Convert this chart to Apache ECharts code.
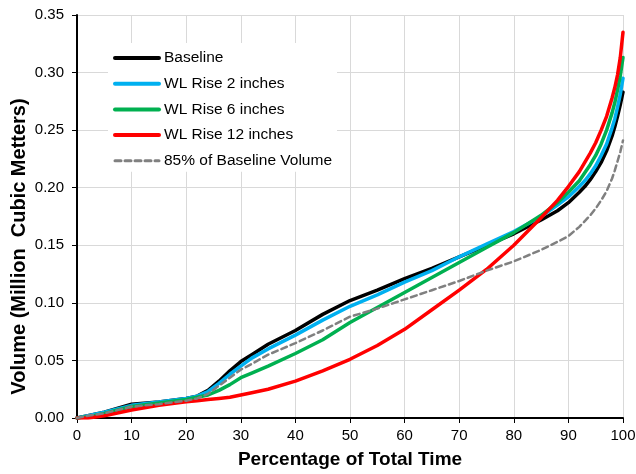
<!DOCTYPE html>
<html>
<head>
<meta charset="utf-8">
<script src="https://cdn.jsdelivr.net/npm/echarts@6/dist/echarts.min.js"></script>
<style>html,body{margin:0;padding:0;background:#fff;}#c{width:636px;height:474px;}</style>
</head>
<body>
<div id="c"></div>
<script>
const pct = [0, 2, 5, 10, 15, 20, 22, 24, 26, 28, 30, 32, 35, 40, 45, 50, 55, 60, 65, 70, 75, 80, 85, 88, 90, 92, 93, 94, 95, 96, 97, 98, 98.5, 99, 99.5, 100];
const baseline = [0, 0.002, 0.005, 0.012, 0.014, 0.017, 0.019, 0.024, 0.032, 0.041, 0.049, 0.055, 0.064, 0.076, 0.090, 0.102, 0.111, 0.121, 0.130, 0.140, 0.150, 0.160, 0.172, 0.180, 0.187, 0.196, 0.201, 0.207, 0.214, 0.222, 0.232, 0.245, 0.253, 0.262, 0.272, 0.283];
const wl2 = [0, 0.002, 0.005, 0.011, 0.014, 0.017, 0.019, 0.023, 0.030, 0.038, 0.045, 0.052, 0.060, 0.072, 0.085, 0.097, 0.107, 0.118, 0.128, 0.140, 0.151, 0.162, 0.175, 0.185, 0.192, 0.201, 0.206, 0.212, 0.219, 0.228, 0.238, 0.252, 0.260, 0.270, 0.281, 0.295];
const wl6 = [0, 0.001, 0.004, 0.010, 0.013, 0.016, 0.018, 0.020, 0.024, 0.029, 0.035, 0.039, 0.045, 0.056, 0.068, 0.083, 0.096, 0.109, 0.122, 0.135, 0.148, 0.161, 0.176, 0.187, 0.196, 0.206, 0.213, 0.220, 0.228, 0.238, 0.250, 0.265, 0.274, 0.285, 0.297, 0.313];
const wl12 = [0, 0.000, 0.002, 0.007, 0.011, 0.014, 0.015, 0.016, 0.017, 0.018, 0.020, 0.022, 0.025, 0.032, 0.041, 0.051, 0.063, 0.077, 0.094, 0.111, 0.129, 0.150, 0.174, 0.189, 0.201, 0.214, 0.222, 0.230, 0.239, 0.250, 0.262, 0.278, 0.287, 0.298, 0.313, 0.335];
const pct85 = [0, 0.002, 0.004, 0.010, 0.012, 0.015, 0.017, 0.021, 0.028, 0.035, 0.042, 0.047, 0.055, 0.065, 0.076, 0.088, 0.095, 0.103, 0.111, 0.119, 0.128, 0.136, 0.146, 0.153, 0.158, 0.166, 0.171, 0.176, 0.182, 0.189, 0.197, 0.208, 0.215, 0.223, 0.231, 0.241];
const seriesNames = ['Baseline', 'WL Rise 2 inches', 'WL Rise 6 inches', 'WL Rise 12 inches', '85% of Baseline Volume'];

const pair = arr => pct.map((x, i) => [x, arr[i]]);
const font = 'Liberation Sans, Arial, sans-serif';
function mk(name, arr, color, width, type) {
  return {
    name, type: 'line', data: pair(arr), showSymbol: false, symbol: 'none',
    smooth: false,
    lineStyle: { color, width, type: type || 'solid', join: 'round', cap: 'round' },
    itemStyle: { color }
  };
}
const chart = echarts.init(document.getElementById('c'), null, { renderer: 'canvas' });
chart.setOption({
  animation: false,
  backgroundColor: '#fff',
  grid: { left: 77, right: 13, top: 15, bottom: 56, containLabel: false, outerBoundsMode: 'none' },
  legend: {
    left: 108, top: 43, orient: 'vertical',
    backgroundColor: '#fff', padding: [7, 5, 3, 5],
    itemWidth: 44, itemHeight: 14, itemGap: 9.7,
    itemStyle: { opacity: 0 },
    textStyle: { fontFamily: font, fontSize: 15.5, color: '#000' },
    data: seriesNames.map((n, i) => ({ name: n, lineStyle: { width: i === 4 ? 3 : 4 } }))
  },
  xAxis: {
    type: 'value', min: 0, max: 100, interval: 10,
    name: 'Percentage of Total Time', nameLocation: 'middle', nameGap: 32, nameMoveOverlap: false,
    nameTextStyle: { fontFamily: font, fontSize: 19, fontWeight: 'bold', color: '#000' },
    axisLine: { show: true, lineStyle: { color: '#000', width: 2 } },
    axisTick: { show: true, length: 5, lineStyle: { color: '#000', width: 1 } },
    axisLabel: { fontFamily: font, fontSize: 15, color: '#000', margin: 10 },
    splitLine: { show: true, lineStyle: { color: '#d9d9d9', width: 1 } }
  },
  yAxis: {
    type: 'value', min: 0, max: 0.35, interval: 0.05,
    name: 'Volume (Million  Cubic Metters)', nameLocation: 'middle', nameGap: 48, nameMoveOverlap: false,
    nameTextStyle: { fontFamily: font, fontSize: 20, fontWeight: 'bold', color: '#000', padding: [0, 60, 0, 0] },
    axisLine: { show: true, lineStyle: { color: '#000', width: 2 } },
    axisTick: { show: true, length: 5, lineStyle: { color: '#000', width: 1 } },
    axisLabel: { fontFamily: font, fontSize: 15, color: '#000', margin: 13, formatter: v => v.toFixed(2) },
    splitLine: { show: true, lineStyle: { color: '#d9d9d9', width: 1 } }
  },
  series: [
    mk(seriesNames[0], baseline, '#000000', 3.5),
    mk(seriesNames[1], wl2, '#00b0f0', 3.5),
    mk(seriesNames[2], wl6, '#00b050', 3.5),
    mk(seriesNames[3], wl12, '#ff0000', 3.5),
    mk(seriesNames[4], pct85, '#808080', 2.5, [6, 4])
  ]
});
</script>
</body>
</html>
